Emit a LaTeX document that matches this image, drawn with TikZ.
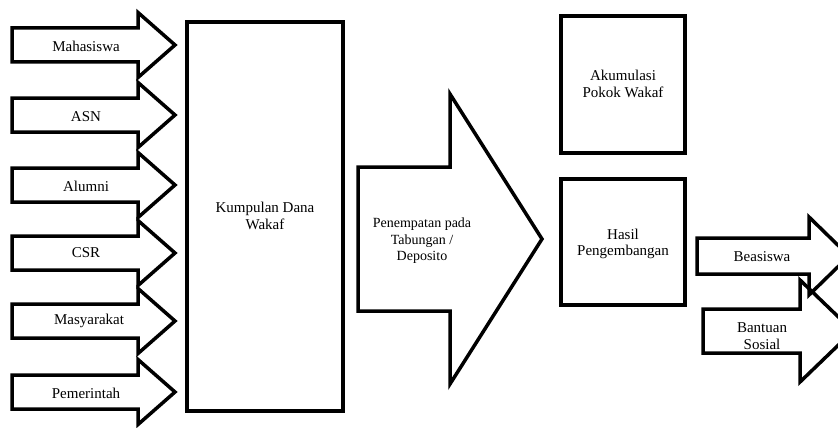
\documentclass[tikz,border=0pt]{standalone}
\usepackage{fontspec}
\setmainfont{Liberation Serif}
\begin{document}
\begin{tikzpicture}[x=1pt,y=-1pt,
  outline/.style={draw=black,line width=3.5pt,line join=miter},
  lbl/.style={font=\fontsize{15}{16.5}\selectfont,align=center,inner sep=0pt},
  lblsmall/.style={font=\fontsize{14}{16.5}\selectfont,align=center,inner sep=0pt}]
% page frame
\useasboundingbox (0,0) rectangle (838,428);
\clip (0,0) rectangle (838,428);
\fill[white] (0,0) rectangle (838,428);
% block arrow: left end, head base, tip, centre y, shaft half-height, head half-height
\newcommand{\blockarrow}[6]{%
  \draw[outline] (#1,#4-#5) -- (#2,#4-#5) -- (#2,#4-#6) -- (#3,#4)
    -- (#2,#4+#6) -- (#2,#4+#5) -- (#1,#4+#5) -- cycle;}
% sources
\blockarrow{12}{138}{175}{45}{17}{32.5}
\blockarrow{12}{138}{175}{115}{17}{32.5}
\blockarrow{12}{138}{175}{185}{17}{32.5}
\blockarrow{12}{138}{175}{253}{17}{32.5}
\blockarrow{12}{138}{175}{321}{17}{32.5}
\blockarrow{12}{138}{175}{392}{17}{32.5}
\node[lbl] (mhs) at (86,46) {Mahasiswa};
\node[lbl] (asn) at (86,117) {ASN};
\node[lbl] (alm) at (86,186) {Alumni};
\node[lbl] (csr) at (86,253) {CSR};
\node[lbl] (msy) at (89,321) {Masyarakat};
\node[lbl] (pmr) at (86,393) {Pemerintah};
% pooled fund
\draw[outline] (187,22) rectangle (343,411);
\node[lbl] (dana) at (265,216) {Kumpulan Dana\\Wakaf};
% placement arrow
\blockarrow{358}{450}{542}{239}{72}{145}
\node[lblsmall] (tab) at (422,241) {Penempatan pada\\Tabungan /\\Deposito};
% results
\draw[outline] (561,16) rectangle (685,153);
\node[lbl] (pokok) at (623,84) {Akumulasi\\Pokok Wakaf};
\draw[outline] (561,179) rectangle (685,305);
\node[lbl] (hasil) at (623,244) {Hasil\\Pengembangan};
% distribution
\blockarrow{697}{809}{849}{256}{18}{39}
\blockarrow{703}{800}{853}{331}{22}{51}
\node[lbl] (bea) at (762,257) {Beasiswa};
\node[lbl] (bansos) at (762,336) {Bantuan\\Sosial};
\end{tikzpicture}
\end{document}
